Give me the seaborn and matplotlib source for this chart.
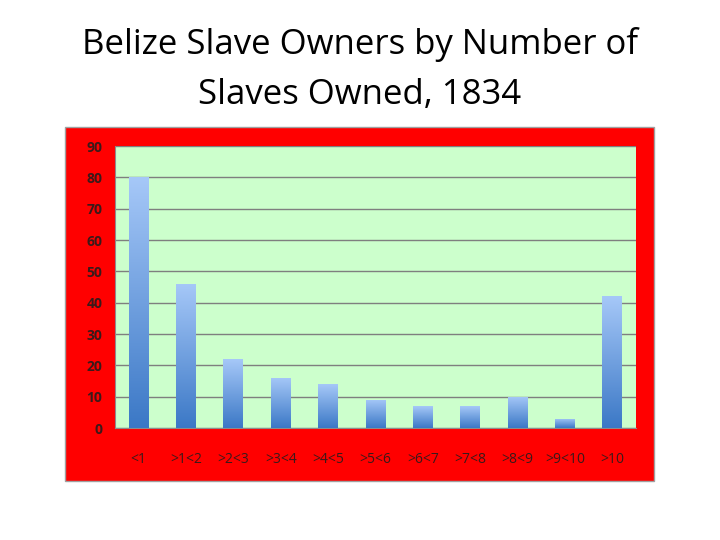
import numpy as np
import matplotlib
matplotlib.use("Agg")
import matplotlib.pyplot as plt
import seaborn as sns
from matplotlib.patches import Rectangle

categories = ["<1", ">1<2", ">2<3", ">3<4", ">4<5", ">5<6", ">6<7", ">7<8", ">8<9", ">9<10", ">10"]
owners = [80, 46, 22, 16, 14, 9, 7, 7, 10, 3, 42]
yticks = [0, 10, 20, 30, 40, 50, 60, 70, 80, 90]

sns.set_style("white")
plt.rcParams['font.family'] = ['Open Sans', 'DejaVu Sans']

fig = plt.figure(figsize=(7.2, 5.4), dpi=100)
fig.patch.set_facecolor("white")

# red chart frame, kept behind the axes
fig.patches.append(Rectangle((65/720, 1-481/540), 589/720, 354/540, transform=fig.transFigure,
                             facecolor="#ff0000", edgecolor="#a0a0a0", linewidth=1, zorder=-5))

ax = fig.add_axes([115/720, 1-428/540, 521/720, 282/540])
ax.set_zorder(2)
ax.set_facecolor("#ccffcc")

sns.barplot(x=categories, y=owners, color="#5b8fd6", width=0.42, ax=ax, zorder=3)

# vertical gradient fill for each bar
grad = np.linspace(0, 1, 256).reshape(-1, 1)
cmap = matplotlib.colors.LinearSegmentedColormap.from_list("bar", ["#3b78c6", "#a6c8f8"])
for p in ax.patches:
    x0, y0 = p.get_x(), p.get_y()
    w, h = p.get_width(), p.get_height()
    im = ax.imshow(grad, cmap=cmap, aspect="auto", origin="lower",
                   extent=[x0, x0 + w, y0, y0 + h], zorder=3)
    im.set_clip_path(p)
    p.set_facecolor("none")
    p.set_edgecolor("none")

ax.set_xlim(-0.5, len(categories) - 0.5)
ax.set_ylim(0, 90)
ax.set_yticks(yticks)
ax.yaxis.grid(True, color="#7f7f7f", linewidth=1, zorder=1)
ax.set_axisbelow(True)

for s in ["top", "right"]:
    ax.spines[s].set_visible(False)
ax.spines["left"].set_color("#8c8c8c")
ax.spines["bottom"].set_color("#8c8c8c")

ax.set_xticks(range(len(categories)))
ax.set_xticklabels(categories, fontsize=10, color="#3a1a1a")
ax.set_xticks(np.arange(-0.5, len(categories)), minor=True)
ax.tick_params(axis="x", which="major", length=0, pad=17)
ax.tick_params(axis="x", which="minor", length=4, color="#8c8c8c", direction="out")
ax.tick_params(axis="y", length=4, color="#8c8c8c", direction="in", pad=9)
for lbl in ax.get_yticklabels():
    lbl.set_fontsize(10)
    lbl.set_fontweight("bold")
    lbl.set_color("#3a1a1a")

fig.text(0.5, 1-45/540, "Belize Slave Owners by Number of", ha="center", va="center",
         fontsize=25, color="black")
fig.text(0.5, 1-95/540, "Slaves Owned, 1834", ha="center", va="center",
         fontsize=25, color="black")

fig.savefig("out.png", dpi=100)
